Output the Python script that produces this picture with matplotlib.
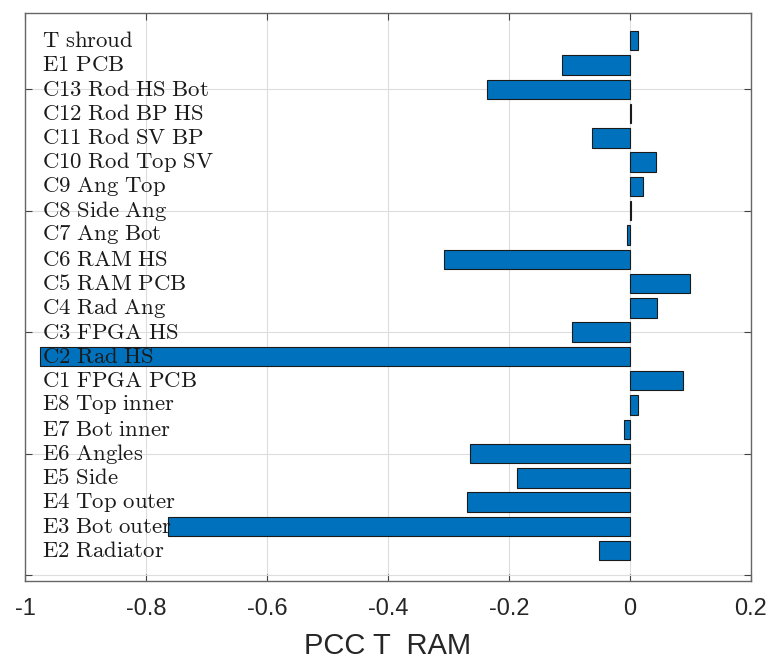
import matplotlib
matplotlib.use("Agg")
import matplotlib.pyplot as plt
import numpy as np

# Sensor names, listed bottom to top
names = ["E2 Radiator", "E3 Bot outer", "E4 Top outer", "E5 Side", "E6 Angles",
         "E7 Bot inner", "E8 Top inner", "C1 FPGA PCB", "C2 Rad HS", "C3 FPGA HS",
         "C4 Rad Ang", "C5 RAM PCB", "C6 RAM HS", "C7 Ang Bot", "C8 Side Ang",
         "C9 Ang Top", "C10 Rod Top SV", "C11 Rod SV BP", "C12 Rod BP HS",
         "C13 Rod HS Bot", "E1 PCB", "T shroud"]

# Pearson correlation coefficient with the RAM temperature
pcc = [-0.051, -0.764, -0.270, -0.187, -0.265,
       -0.010, 0.013, 0.088, -0.975, -0.095,
       0.044, 0.099, -0.307, -0.005, 0.002,
       0.021, 0.043, -0.063, 0.002,
       -0.236, -0.112, 0.013]

xticks = [-1, -0.8, -0.6, -0.4, -0.2, 0, 0.2]
xticklabels = ["-1", "-0.8", "-0.6", "-0.4", "-0.2", "0", "0.2"]
yticks = [0, 5, 10, 15, 20]

plt.rcParams["mathtext.fontset"] = "cm"

fig = plt.figure(figsize=(7.71, 6.61), dpi=100)
ax = fig.add_axes([0.0324, 0.121, 0.9416, 0.859])

pos = np.arange(1, len(names) + 1)
ax.barh(pos, pcc, height=0.8, color="#0072BD", edgecolor="#1a1a1a",
        linewidth=0.8, zorder=2)

for y, name in zip(pos, names):
    ax.text(-0.972, y, r"$\mathrm{" + name.replace(" ", r"\ ") + "}$",
            fontsize=16.4, va="center", ha="left", color="#1a1a1a", zorder=3)

ax.set_xlim(-1, 0.2)
ax.set_ylim(-0.25, 23.13)
ax.set_xticks(xticks)
ax.set_xticklabels(xticklabels, fontsize=17, family="Liberation Sans", color="#262626")
ax.set_yticks(yticks)
ax.set_yticklabels([])
ax.tick_params(direction="in", length=5, width=0.8, color="#444444",
               top=True, right=True, pad=12)
ax.grid(True, color="#dddddd", linewidth=0.8, zorder=0)
ax.set_axisbelow(True)
for s in ax.spines.values():
    s.set_color("#666666")
    s.set_linewidth(1.0)

ax.set_xlabel("PCC T  RAM", fontsize=21, family="Liberation Sans", color="#262626",
              labelpad=9)

fig.savefig("out.png", dpi=100)
